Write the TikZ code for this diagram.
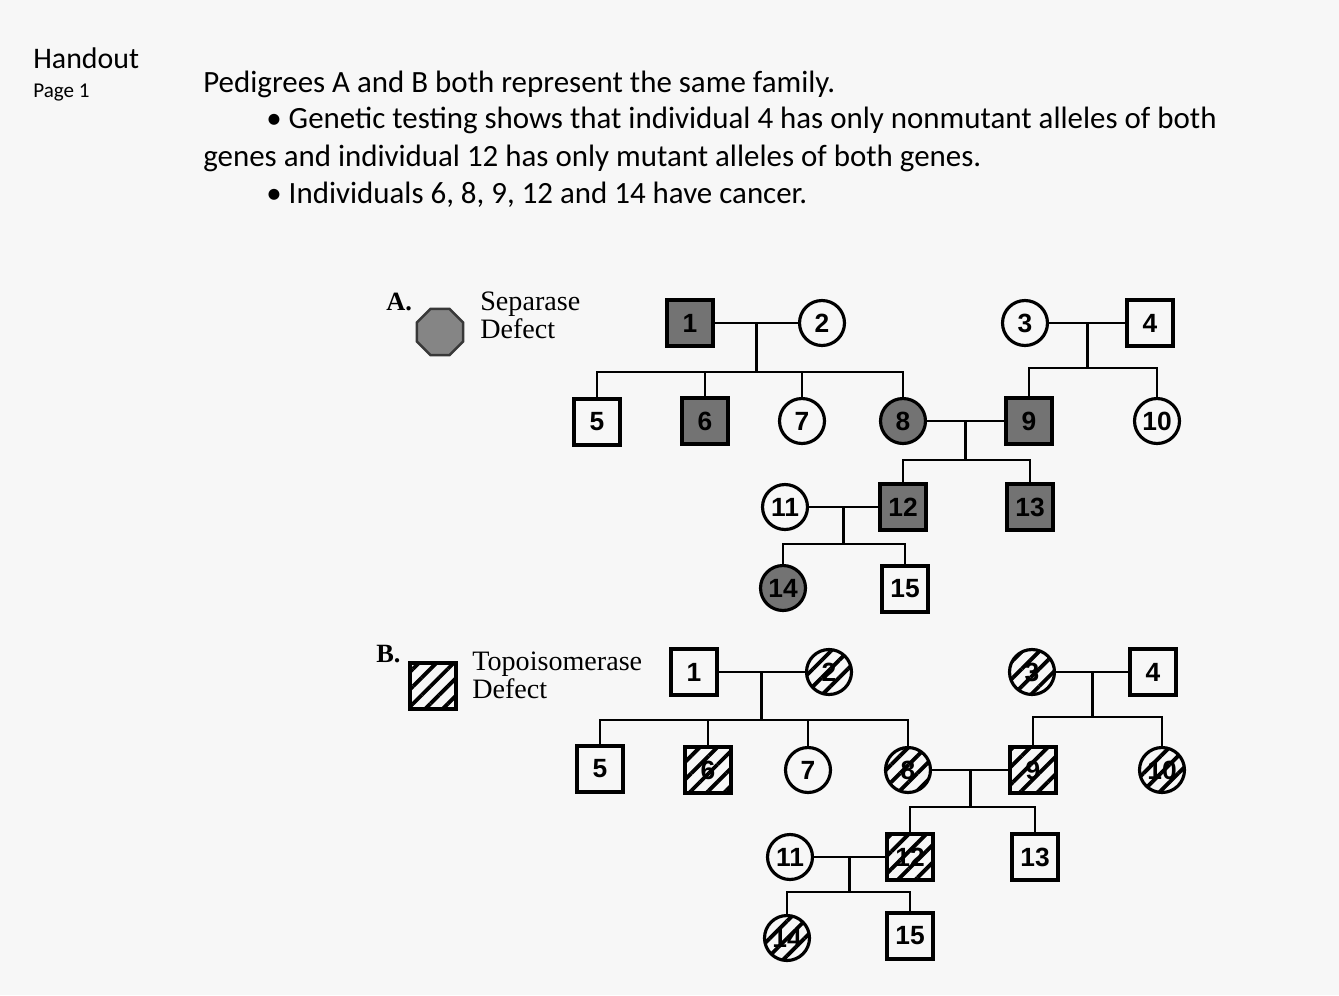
\documentclass[tikz,border=0pt]{standalone}
\usepackage{fontspec}
\setmainfont{Carlito}
\newfontfamily\numfont{Liberation Sans}
\newfontfamily\legfont{Liberation Serif}
\usetikzlibrary{shapes.geometric, patterns.meta}
\definecolor{paper}{HTML}{F7F7F7}
\definecolor{affected}{HTML}{737373}

\begin{document}
\begin{tikzpicture}[
    x=0.02cm, y=-0.02cm,
    person/.style={draw=black, line width=1.8pt, inner sep=0pt,
                   font=\numfont\bfseries\fontsize{15}{15}\selectfont},
    male/.style={person, rectangle, minimum size=0.92cm},
    female/.style={person, circle, minimum size=0.9cm},
    shaded/.style={fill=affected},
    hatched/.style={pattern={Lines[angle=45, distance=7pt, line width=2.2pt]}},
    line/.style={line width=1.5pt},
    body/.style={anchor=base west, inner sep=0pt, font=\fontsize{17.6}{20}\selectfont},
    legend/.style={anchor=base west, inner sep=0pt, align=left,
                   font=\legfont\fontsize{16}{13}\selectfont}
]

% Page
\fill[paper] (0,0) rectangle (1339,995);

% Header
\node[anchor=base west, inner sep=0pt, font=\fontsize{17}{17}\selectfont] (handout) at (33,68) {Handout};
\node[anchor=base west, inner sep=0pt, font=\fontsize{12}{12}\selectfont] (page) at (33,97) {Page 1};
\node[body] (t1) at (203,92) {Pedigrees A and B both represent the same family.};
\node[body] (t2) at (266,128) {\textbullet\ Genetic testing shows that individual 4 has only nonmutant alleles of both};
\node[body] (t3) at (203,166) {genes and individual 12 has only mutant alleles of both genes.};
\node[body] (t4) at (266,203) {\textbullet\ Individuals 6, 8, 9, 12 and 14 have cancer.};

% Legend A
\node[legend, font=\legfont\bfseries\fontsize{15}{15}\selectfont] (labA) at (386,310) {A.};
\node[regular polygon, regular polygon sides=8, minimum size=1cm, fill=black!48,
      draw=black!78, line width=1.4pt] (octA) at (440,332) {};
\node[legend] (sepA) at (480,338) {Separase\\Defect};

% Pedigree A
\node[male, shaded] (a1) at (690,323) {1};
\node[female] (a2) at (822,323) {2};
\node[female] (a3) at (1025,323) {3};
\node[male] (a4) at (1150,323) {4};
\node[male] (a5) at (597,422) {5};
\node[male, shaded] (a6) at (705,421) {6};
\node[female] (a7) at (802,421) {7};
\node[female, shaded] (a8) at (903,421) {8};
\node[male, shaded] (a9) at (1029,421) {9};
\node[female] (a10) at (1157,421) {10};
\node[female] (a11) at (785,507) {11};
\node[male, shaded] (a12) at (903,507) {12};
\node[male, shaded] (a13) at (1030,507) {13};
\node[female, shaded] (a14) at (783,588) {14};
\node[male] (a15) at (905,589) {15};

\coordinate (as1) at (0,372);
\coordinate (as2) at (0,368);
\coordinate (as3) at (0,460);
\coordinate (as4) at (0,544);

\draw[line] (a1) -- (a2) coordinate[midway] (aj1);
\draw[line] (a3) -- (a4) coordinate[midway] (aj2);
\draw[line] (a8) -- (a9) coordinate[midway] (aj3);
\draw[line] (a11) -- (a12) coordinate[midway] (aj4);

\draw[line] (aj1) -- (aj1 |- as1);
\draw[line] (a5) -- (a5 |- as1) -- (a8 |- as1) -- (a8);
\foreach \k in {6,7} \draw[line] (a\k |- as1) -- (a\k);
\draw[line] (aj2) -- (aj2 |- as2);
\draw[line] (a9) -- (a9 |- as2) -- (a10 |- as2) -- (a10);
\draw[line] (aj3) -- (aj3 |- as3);
\draw[line] (a12) -- (a12 |- as3) -- (a13 |- as3) -- (a13);
\draw[line] (aj4) -- (aj4 |- as4);
\draw[line] (a14) -- (a14 |- as4) -- (a15 |- as4) -- (a15);

% Legend B
\node[legend, font=\legfont\bfseries\fontsize{15}{15}\selectfont] (labB) at (376,662) {B.};
\node[rectangle, minimum size=0.92cm, hatched, draw=black, line width=1.8pt] (hatB) at (433,686) {};
\node[legend] (topB) at (472,698) {Topoisomerase\\Defect};

% Pedigree B
\node[male] (b1) at (694,672) {1};
\node[female, hatched] (b2) at (829,672) {2};
\node[female, hatched] (b3) at (1032,672) {3};
\node[male] (b4) at (1153,672) {4};
\node[male] (b5) at (600,769) {5};
\node[male, hatched] (b6) at (708,770) {6};
\node[female] (b7) at (808,770) {7};
\node[female, hatched] (b8) at (908,770) {8};
\node[male, hatched] (b9) at (1033,770) {9};
\node[female, hatched] (b10) at (1162,770) {10};
\node[female] (b11) at (790,857) {11};
\node[male, hatched] (b12) at (910,857) {12};
\node[male] (b13) at (1035,857) {13};
\node[female, hatched] (b14) at (787,938) {14};
\node[male] (b15) at (910,936) {15};

\coordinate (bs1) at (0,720);
\coordinate (bs2) at (0,717);
\coordinate (bs3) at (0,807);
\coordinate (bs4) at (0,892);

\draw[line] (b1) -- (b2) coordinate[midway] (bj1);
\draw[line] (b3) -- (b4) coordinate[midway] (bj2);
\draw[line] (b8) -- (b9) coordinate[midway] (bj3);
\draw[line] (b11) -- (b12) coordinate[midway] (bj4);

\draw[line] (bj1) -- (bj1 |- bs1);
\draw[line] (b5) -- (b5 |- bs1) -- (b8 |- bs1) -- (b8);
\foreach \k in {6,7} \draw[line] (b\k |- bs1) -- (b\k);
\draw[line] (bj2) -- (bj2 |- bs2);
\draw[line] (b9) -- (b9 |- bs2) -- (b10 |- bs2) -- (b10);
\draw[line] (bj3) -- (bj3 |- bs3);
\draw[line] (b12) -- (b12 |- bs3) -- (b13 |- bs3) -- (b13);
\draw[line] (bj4) -- (bj4 |- bs4);
\draw[line] (b14) -- (b14 |- bs4) -- (b15 |- bs4) -- (b15);

\end{tikzpicture}
\end{document}
